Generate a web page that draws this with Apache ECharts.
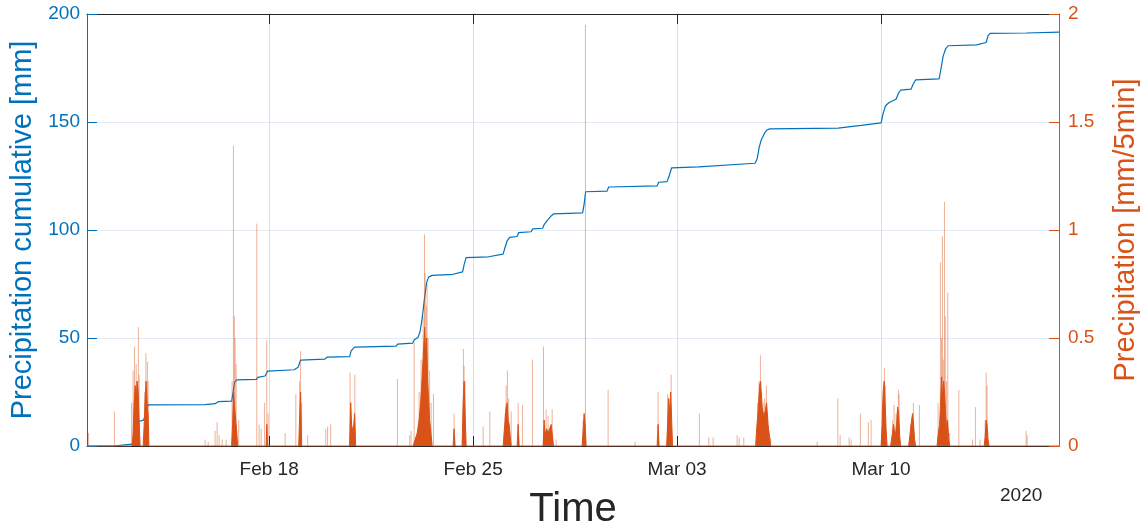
<!DOCTYPE html>
<html>
<head>
<meta charset="utf-8">
<script src="https://cdn.jsdelivr.net/npm/echarts@6/dist/echarts.min.js"></script>
<style>
html,body{margin:0;padding:0;background:#fff;}
#chart{width:1142px;height:527px;}
</style>
</head>
<body>
<div id="chart"></div>
<script>
// ---- data (times are 2020, local) ----
const xTickDates = ['2020-02-18 00:00','2020-02-25 00:00','2020-03-03 00:00','2020-03-10 00:00'];
const xTickLabels = ['Feb 18','Feb 25','Mar 03','Mar 10'];
const yLeftTicks = [0, 50, 100, 150, 200];
const yRightTicks = [0, 0.5, 1, 1.5, 2];
const timeStart = '2020-02-11 18:00';
const timeEnd = '2020-03-16 02:30';
const yearLabel = '2020';

// cumulative precipitation [mm]
const cumulative = [
['02-11 18:00',0],['02-12 16:00',0],['02-12 16:45',0.9],['02-13 08:50',1.0],['02-13 10:05',11.0],['02-13 11:20',11.5],['02-13 16:35',12.0],['02-13 17:55',14.0],['02-13 19:05',17.5],['02-13 20:35',19.0],
['02-15 19:20',19.2],['02-16 03:30',19.6],['02-16 06:00',20.5],['02-16 17:10',20.8],['02-16 18:20',25.0],['02-16 19:35',29.5],['02-16 21:15',30.6],
['02-17 13:40',30.8],['02-17 14:30',31.8],['02-17 20:40',32.4],['02-17 22:45',34.7],
['02-18 20:35',35.3],['02-18 23:55',36.5],['02-19 01:55',39.8],['02-19 21:40',40.2],['02-19 23:45',41.1],
['02-20 18:20',41.4],['02-20 19:30',44.0],['02-20 22:25',45.8],
['02-22 08:35',46.2],['02-22 09:50',47.2],['02-22 22:10',47.6],['02-22 23:25',49.1],
['02-23 02:40',50.3],['02-23 04:20',53.0],['02-23 06:00',59.0],['02-23 07:40',67.0],['02-23 09:40',75.5],['02-23 11:20',78.2],['02-23 14:15',79.0],
['02-24 07:30',79.5],['02-24 08:45',80.3],['02-24 15:20',80.6],['02-24 16:35',84.0],['02-24 18:15',87.2],
['02-25 12:45',87.6],['02-25 14:00',88.4],
['02-26 00:40',88.8],['02-26 02:20',92.0],['02-26 04:00',95.0],['02-26 06:05',96.6],['02-26 12:15',97.0],['02-26 13:30',98.8],['02-26 23:45',99.2],
['02-27 01:00',100.5],['02-27 09:15',100.8],['02-27 10:30',102.5],['02-27 12:30',104.0],['02-27 13:45',104.8],['02-27 16:15',106.5],['02-27 18:20',107.5],
['02-28 18:10',107.9],['02-28 19:25',112.0],['02-28 20:40',117.7],
['02-29 14:20',118.0],['02-29 15:35',119.9],
['03-02 07:30',120.4],['03-02 08:45',122.1],['03-02 15:45',122.4],['03-02 17:25',125.0],['03-02 19:30',128.8],
['03-03 17:40',129.2],['03-03 18:30',129.8],
['03-05 16:15',130.9],['03-05 17:55',133.0],['03-05 19:30',138.0],['03-05 21:10',141.5],['03-05 23:40',144.5],['03-06 01:40',146.2],['03-06 04:10',146.8],
['03-08 12:35',147.2],['03-08 13:25',148.1],['03-09 07:30',148.4],['03-09 08:20',149.0],
['03-10 00:00',149.6],['03-10 01:40',154.0],['03-10 03:40',157.5],['03-10 06:35',159.0],['03-10 12:20',160.5],['03-10 14:00',163.0],['03-10 16:05',164.8],
['03-11 00:40',165.2],['03-11 02:20',167.5],['03-11 04:25',169.5],['03-11 23:45',170.0],
['03-12 01:25',175.0],['03-12 03:05',180.5],['03-12 05:05',183.8],['03-12 07:10',185.3],
['03-13 06:40',185.7],['03-13 07:25',186.5],['03-13 14:30',186.8],['03-13 16:05',190.0],['03-13 17:45',191.0],
['03-14 23:25',191.2],['03-15 00:15',191.6],['03-16 02:30',191.6]
];

// precipitation [mm/5min], dense part of each shower
const rainCore = [
['02-11 18:00',0],
['02-13 07:10',0],['02-13 08:00',0.06],['02-13 08:50',0.2],['02-13 09:40',0.28],['02-13 10:30',0.22],['02-13 11:15',0.3],['02-13 12:05',0.25],['02-13 12:55',0.12],['02-13 13:45',0],
['02-13 16:15',0],['02-13 17:05',0.1],['02-13 17:55',0.22],['02-13 18:40',0.3],['02-13 19:30',0.2],['02-13 20:20',0.15],['02-13 21:00',0],
['02-16 17:05',0],['02-16 17:55',0.1],['02-16 18:45',0.25],['02-16 19:35',0.18],['02-16 20:25',0.12],['02-16 21:15',0.07],['02-16 22:05',0],
['02-17 21:30',0],['02-17 22:05',0.1],['02-17 22:45',0],
['02-19 00:20',0],['02-19 01:05',0.12],['02-19 01:55',0.25],['02-19 02:45',0],
['02-20 18:15',0],['02-20 19:05',0.2],['02-20 19:55',0.1],['02-20 21:10',0.06],['02-20 22:25',0.15],['02-20 23:15',0],
['02-22 22:35',0],['02-23 00:15',0.03],['02-23 01:55',0.06],['02-23 03:30',0.12],['02-23 04:45',0.2],['02-23 06:00',0.32],['02-23 07:15',0.45],['02-23 08:05',0.55],['02-23 08:55',0.42],['02-23 09:45',0.5],['02-23 10:30',0.3],['02-23 11:20',0.22],['02-23 12:10',0.12],['02-23 13:25',0.05],['02-23 14:15',0],
['02-24 07:30',0],['02-24 08:20',0.08],['02-24 09:10',0],
['02-24 14:55',0],['02-24 15:45',0.2],['02-24 16:35',0.3],['02-24 17:25',0.15],['02-24 18:15',0],
['02-26 00:45',0],['02-26 01:30',0.06],['02-26 02:20',0.12],['02-26 03:10',0.18],['02-26 04:00',0.2],['02-26 04:50',0.12],['02-26 05:40',0.1],['02-26 06:30',0.05],['02-26 07:20',0],
['02-26 12:15',0],['02-26 13:05',0.1],['02-26 13:55',0],
['02-27 09:40',0],['02-27 10:30',0.12],['02-27 11:15',0.05],['02-27 12:30',0.08],['02-27 13:45',0.06],['02-27 16:15',0.1],['02-27 17:05',0.06],['02-27 18:15',0],
['02-28 17:45',0],['02-28 18:35',0.07],['02-28 19:25',0.15],['02-28 20:15',0.1],['02-28 21:05',0],
['03-02 07:30',0],['03-02 08:20',0.1],['03-02 09:10',0],
['03-02 15:20',0],['03-02 16:10',0.1],['03-02 17:00',0.22],['03-02 17:50',0.15],['03-02 18:40',0.25],['03-02 19:30',0.12],['03-02 20:15',0],
['03-05 16:40',0],['03-05 17:30',0.08],['03-05 18:40',0.16],['03-05 19:55',0.28],['03-05 20:45',0.3],['03-05 22:00',0.18],['03-05 23:15',0.14],['03-06 00:30',0.16],['03-06 01:40',0.2],['03-06 02:55',0.1],['03-06 04:10',0.04],['03-06 05:00',0],
['03-10 00:00',0],['03-10 00:50',0.1],['03-10 01:40',0.25],['03-10 02:30',0.3],['03-10 03:15',0.2],['03-10 04:05',0.08],['03-10 04:55',0],
['03-10 07:50',0],['03-10 09:05',0.05],['03-10 10:15',0.1],['03-10 11:30',0.04],['03-10 12:45',0.1],['03-10 13:35',0.18],['03-10 14:25',0.15],['03-10 15:15',0.05],['03-10 16:05',0],
['03-10 22:40',0],['03-10 23:55',0.06],['03-11 01:05',0.12],['03-11 01:55',0.15],['03-11 02:45',0.1],['03-11 03:35',0.03],['03-11 04:25',0],
['03-11 22:05',0],['03-11 22:55',0.05],['03-12 00:10',0.1],['03-12 01:00',0.2],['03-12 01:50',0.32],['03-12 02:40',0.22],['03-12 03:30',0.3],['03-12 04:15',0.25],['03-12 05:05',0.15],['03-12 05:55',0.08],['03-12 06:45',0.12],['03-12 07:35',0.04],['03-12 08:25',0],
['03-13 12:50',0],['03-13 13:40',0.04],['03-13 14:30',0.12],['03-13 15:15',0.1],['03-13 16:05',0.03],['03-13 16:55',0],
['03-16 02:30',0]
];

// precipitation [mm/5min], individual 5-min peaks
const rainPeaks = [
['02-11 19:20',0.06],['02-12 16:35',0.16],
['02-13 06:45',0.2],['02-13 08:00',0.35],['02-13 09:05',0.46],['02-13 10:30',0.38],['02-13 11:15',0.3],['02-13 12:20',0.55],['02-13 12:55',0.33],
['02-13 17:30',0.25],['02-13 18:30',0.43],['02-13 19:45',0.39],['02-13 20:20',0.3],
['02-15 19:15',0.03],['02-15 21:45',0.02],['02-16 03:30',0.07],['02-16 05:10',0.11],['02-16 06:50',0.05],['02-16 09:20',0.03],['02-16 12:35',0.03],
['02-16 17:30',0.3],['02-16 18:35',1.39],['02-16 19:20',0.6],['02-16 20:00',0.5],['02-16 20:50',0.38],['02-16 22:55',0.12],
['02-17 13:50',1.03],['02-17 15:45',0.1],['02-17 17:25',0.08],['02-17 20:15',0.2],['02-17 22:05',0.49],['02-17 23:10',0.15],
['02-18 13:10',0.06],['02-18 22:00',0.24],['02-19 01:05',0.3],['02-19 01:55',0.44],['02-19 02:45',0.2],['02-19 07:45',0.05],
['02-19 22:40',0.08],['02-20 00:10',0.09],['02-20 02:40',0.1],
['02-20 18:40',0.34],['02-20 19:30',0.2],['02-20 22:35',0.33],
['02-22 09:40',0.31],['02-22 19:45',0.05],['02-22 20:55',0.07],['02-22 23:25',0.48],
['02-23 03:30',0.25],['02-23 05:10',0.4],['02-23 06:50',0.6],['02-23 07:55',0.98],['02-23 08:30',0.8],['02-23 09:20',0.65],['02-23 10:05',0.75],['02-23 10:55',0.5],['02-23 12:10',0.35],['02-23 13:25',0.2],['02-23 15:20',0.24],
['02-24 08:20',0.15],['02-24 16:00',0.45],['02-24 16:35',0.37],['02-24 17:25',0.3],
['02-25 08:15',0.09],['02-25 13:45',0.16],
['02-26 02:20',0.15],['02-26 03:10',0.28],['02-26 04:15',0.35],['02-26 05:15',0.22],['02-26 07:20',0.16],['02-26 13:05',0.2],['02-26 16:35',0.19],
['02-27 00:50',0.4],['02-27 09:55',0.46],['02-27 12:05',0.17],['02-27 13:45',0.14],['02-27 17:05',0.17],['02-27 20:20',0.03],
['02-28 18:35',0.12],['02-28 20:30',1.95],['02-29 15:10',0.26],['03-01 13:25',0.02],
['03-02 08:20',0.25],['03-02 16:10',0.24],['03-02 17:25',0.2],['03-02 19:05',0.33],
['03-03 18:20',0.15],['03-04 02:05',0.04],['03-04 05:40',0.04],['03-05 01:25',0.05],['03-05 03:05',0.04],['03-05 06:55',0.04],
['03-05 18:15',0.2],['03-05 19:30',0.3],['03-05 20:35',0.42],['03-05 21:35',0.25],['03-05 22:50',0.2],['03-06 00:05',0.22],['03-06 01:30',0.28],['03-06 02:30',0.15],['03-06 05:00',0.04],
['03-07 19:20',0.02],['03-08 12:20',0.22],['03-08 14:15',0.05],['03-08 21:40',0.04],['03-08 23:20',0.03],
['03-09 06:55',0.15],['03-09 13:30',0.11],['03-09 15:45',0.12],
['03-10 01:15',0.2],['03-10 02:45',0.36],['03-10 03:40',0.28],['03-10 09:30',0.12],['03-10 10:40',0.19],['03-10 12:20',0.15],['03-10 14:15',0.26],['03-10 14:50',0.24],
['03-11 00:20',0.1],['03-11 02:35',0.2],['03-11 07:30',0.19],
['03-11 22:55',0.2],['03-12 00:50',0.85],['03-12 01:50',0.5],['03-12 02:30',0.97],['03-12 03:15',0.4],['03-12 04:10',1.13],['03-12 04:50',0.6],['03-12 05:55',0.3],['03-12 06:55',0.71],['03-12 08:25',0.06],
['03-12 16:00',0.26],['03-13 03:20',0.03],['03-13 05:40',0.18],['03-13 09:30',0.03],['03-13 13:40',0.12],['03-13 14:30',0.34],['03-13 15:15',0.28],
['03-14 23:25',0.07],['03-15 00:15',0.05]
];

// ---- build ----
const FONT = '"Liberation Sans", Arial, Helvetica, sans-serif';
const BLUE = '#0072BD';
const ORANGE = '#D95319';
const DARK = '#262626';
const ts = s => +echarts.time.parse(s);
const withYear = arr => arr.map(p => [ts('2020-' + p[0]), p[1]]);
const tickTs = xTickDates.map(ts);
const xMin = ts(timeStart), xMax = ts(timeEnd);

function xLabel(v) {
  for (let i = 0; i < tickTs.length; i++) if (Math.abs(tickTs[i] - v) < 60000) return xTickLabels[i];
  return '';
}

function renderStem(params, api) {
  const t = api.value(0), v = api.value(1);
  const p0 = api.coord([t, 0]);
  const p1 = api.coord([t, v]);
  return {
    type: 'line',
    shape: {x1: p0[0], y1: p0[1], x2: p1[0], y2: p1[1]},
    style: {stroke: 'rgba(217,83,25,0.45)', lineWidth: 1}
  };
}

const chart = echarts.init(document.getElementById('chart'), null, {renderer: 'canvas'});
chart.setOption({
  animation: false,
  backgroundColor: '#fff',
  grid: {left: 87, right: 83, top: 14, bottom: 81, containLabel: false, outerBoundsMode: 'none'},
  xAxis: [{
    type: 'value', min: xMin, max: xMax, position: 'bottom',
    name: 'Time', nameLocation: 'middle', nameGap: 44,
    nameTextStyle: {fontFamily: FONT, fontSize: 40, color: DARK},
    axisLine: {show: true, onZero: false, lineStyle: {color: DARK, width: 1}},
    axisTick: {show: true, inside: true, length: 10, customValues: tickTs, lineStyle: {color: DARK, width: 1}},
    axisLabel: {show: true, customValues: tickTs, formatter: xLabel, margin: 14, fontFamily: FONT, fontSize: 19, color: DARK},
    splitLine: {show: true, lineStyle: {color: '#dddddd', width: 1}}
  }, {
    type: 'value', min: xMin, max: xMax, position: 'top',
    axisLine: {show: true, onZero: false, lineStyle: {color: DARK, width: 1}},
    axisTick: {show: true, inside: true, length: 10, customValues: tickTs, lineStyle: {color: DARK, width: 1}},
    axisLabel: {show: false},
    splitLine: {show: false}
  }],
  yAxis: [{
    type: 'value', min: yLeftTicks[0], max: yLeftTicks[yLeftTicks.length - 1], interval: 50, position: 'left',
    name: 'Precipitation cumulative [mm]', nameLocation: 'middle', nameGap: 41,
    nameTextStyle: {fontFamily: FONT, fontSize: 29, color: BLUE},
    axisLine: {show: true, lineStyle: {color: BLUE, width: 1}},
    axisTick: {show: true, inside: true, length: 10, lineStyle: {color: BLUE}},
    axisLabel: {margin: 7, fontFamily: FONT, fontSize: 19, color: BLUE},
    splitLine: {show: true, lineStyle: {color: '#e3ecf5', width: 1}}
  }, {
    type: 'value', min: yRightTicks[0], max: yRightTicks[yRightTicks.length - 1], interval: 0.5, position: 'right',
    name: 'Precipitation [mm/5min]', nameLocation: 'middle', nameGap: 52,
    nameTextStyle: {fontFamily: FONT, fontSize: 29, color: ORANGE},
    axisLine: {show: true, lineStyle: {color: ORANGE, width: 1}},
    axisTick: {show: true, inside: true, length: 10, lineStyle: {color: ORANGE}},
    axisLabel: {margin: 9, fontFamily: FONT, fontSize: 19, color: ORANGE},
    splitLine: {show: false}
  }],
  graphic: [{
    type: 'text', left: 1000, top: 486,
    style: {text: yearLabel, fontFamily: FONT, fontSize: 19, fill: DARK}
  }],
  series: [{
    name: 'Precipitation cumulative', type: 'line', xAxisIndex: 0, yAxisIndex: 0,
    data: withYear(cumulative), showSymbol: false, symbol: 'none',
    lineStyle: {color: BLUE, width: 1.2}, z: 3
  }, {
    name: 'Precipitation core', type: 'line', xAxisIndex: 0, yAxisIndex: 1,
    data: withYear(rainCore), showSymbol: false, symbol: 'none',
    lineStyle: {color: ORANGE, width: 1}, areaStyle: {color: ORANGE, opacity: 1}, z: 4
  }, {
    name: 'Precipitation', type: 'custom', xAxisIndex: 0, yAxisIndex: 1,
    data: withYear(rainPeaks), renderItem: renderStem,
    encode: {x: 0, y: 1}, z: 5
  }]
});
</script>
</body>
</html>
